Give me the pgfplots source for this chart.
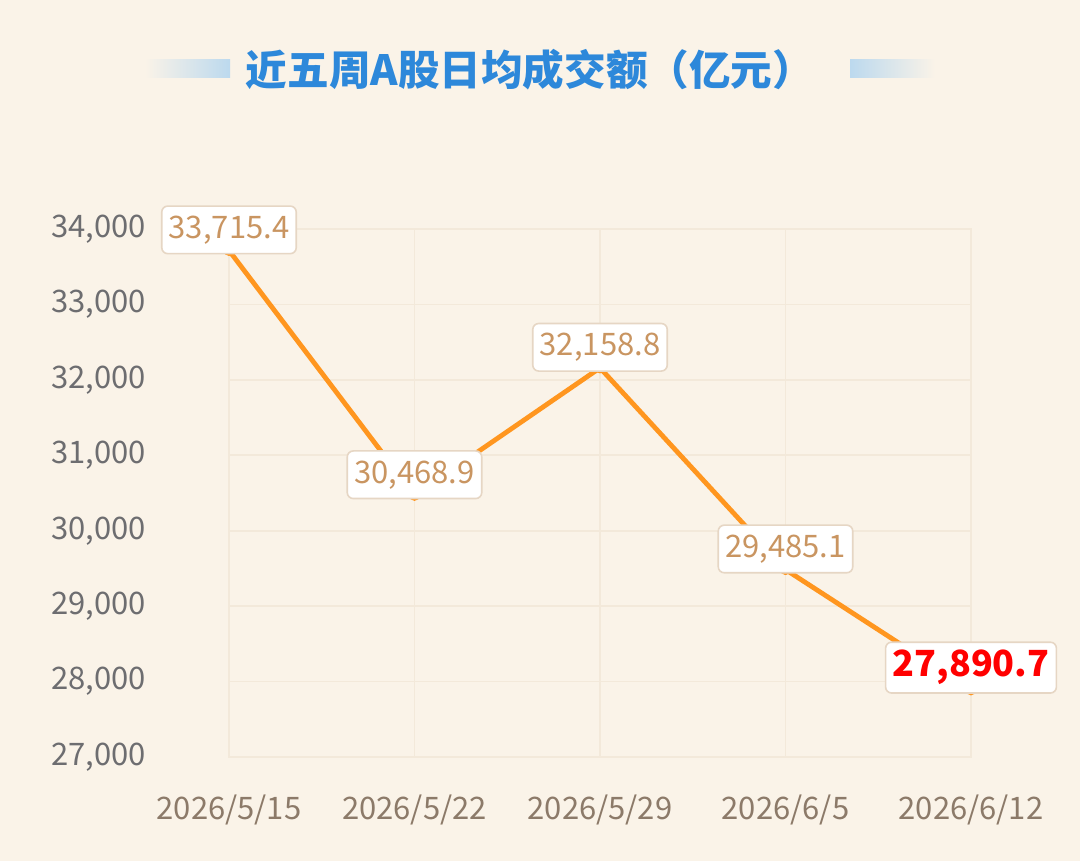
\documentclass[border=0pt]{standalone}
\usepackage{pgfplots}
\pgfplotsset{compat=1.18}
\usepackage{pgfplotstable}
\usepackage{fontspec}
\setmainfont{Noto Sans CJK SC}
\definecolor{bgc}{HTML}{FAF3E8}
\definecolor{titleblue}{HTML}{2D88DA}
\definecolor{barblue}{HTML}{BCD9EE}
\definecolor{lineor}{HTML}{FF961F}
\definecolor{labtan}{HTML}{C99561}
\definecolor{labborder}{HTML}{E6D6C4}
\definecolor{gridc}{HTML}{F3E9DA}
\definecolor{ygray}{HTML}{6D6D70}
\definecolor{xbrown}{HTML}{8C7A69}
\pgfplotstableread{
x y lab
0 33715.4 {33,715.4}
1 30468.9 {30,468.9}
2 32158.8 {32,158.8}
3 29485.1 {29,485.1}
4 27890.7 {27,890.7}
}\alldata
\pgfplotstableread{
x y lab
0 33715.4 {33,715.4}
1 30468.9 {30,468.9}
2 32158.8 {32,158.8}
3 29485.1 {29,485.1}
}\firstfour
\pgfplotstableread{
x y lab
4 27890.7 {27,890.7}
}\lastone
\begin{document}
\begin{tikzpicture}
\path[use as bounding box, fill=bgc] (0,0) rectangle (540pt,430.5pt);
\shade[left color=bgc, right color=barblue] (72.5pt,391.5pt) rectangle (115pt,400.5pt);
\shade[left color=barblue, right color=bgc] (425pt,391.5pt) rectangle (467.5pt,400.5pt);
\node[font=\fontsize{20.8}{24}\selectfont\bfseries, text=titleblue] at (265pt,395.5pt) {近五周A股日均成交额（亿元）};
\begin{axis}[
  at={(114.5pt,52pt)}, anchor=south west,
  scale only axis, width=371pt, height=264pt,
  xmin=0, xmax=4, ymin=27000, ymax=34000,
  xtick={0,1,2,3,4},
  xticklabels={2026/5/15,2026/5/22,2026/5/29,2026/6/5,2026/6/12},
  ytick={27000,28000,...,34000},
  scaled ticks=false,
  /pgf/number format/.cd, fixed, 1000 sep={,}, assume math mode=true,
  /pgfplots/.cd,
  grid=major,
  grid style={gridc, line width=0.8pt},
  axis line style={gridc, line width=0.8pt},
  major tick length=0pt,
  tick label style={font=\fontsize{15.5}{18}\selectfont},
  yticklabel style={text=ygray, anchor=east, xshift=-38pt},
  xticklabel style={text=xbrown, anchor=center, yshift=-26.5pt},
  clip=false,
]
\addplot[lineor, line width=2.4pt, line join=round, mark=*, mark size=2.5pt, mark options={fill=lineor, draw=lineor, line width=0.5pt}] table[x=x, y=y] {\alldata};
\addplot[draw=none, mark=none, nodes near coords, point meta=explicit symbolic,
  nodes near coords style={anchor=south, fill=white, draw=labborder, line width=0.8pt, rounded corners=3pt, inner xsep=3.5pt, inner ysep=4.8pt, text=labtan, font=\fontsize{15.5}{18}\selectfont, yshift=-2pt}]
  table[x=x, y=y, meta=lab] {\firstfour};
\addplot[draw=none, mark=none, nodes near coords, point meta=explicit symbolic,
  nodes near coords style={anchor=south, fill=white, draw=labborder, line width=0.8pt, rounded corners=3pt, inner xsep=3.5pt, inner ysep=4pt, text=red, font=\fontsize{18}{21}\selectfont\bfseries, yshift=-2pt}]
  table[x=x, y=y, meta=lab] {\lastone};
\end{axis}
\end{tikzpicture}
\end{document}
